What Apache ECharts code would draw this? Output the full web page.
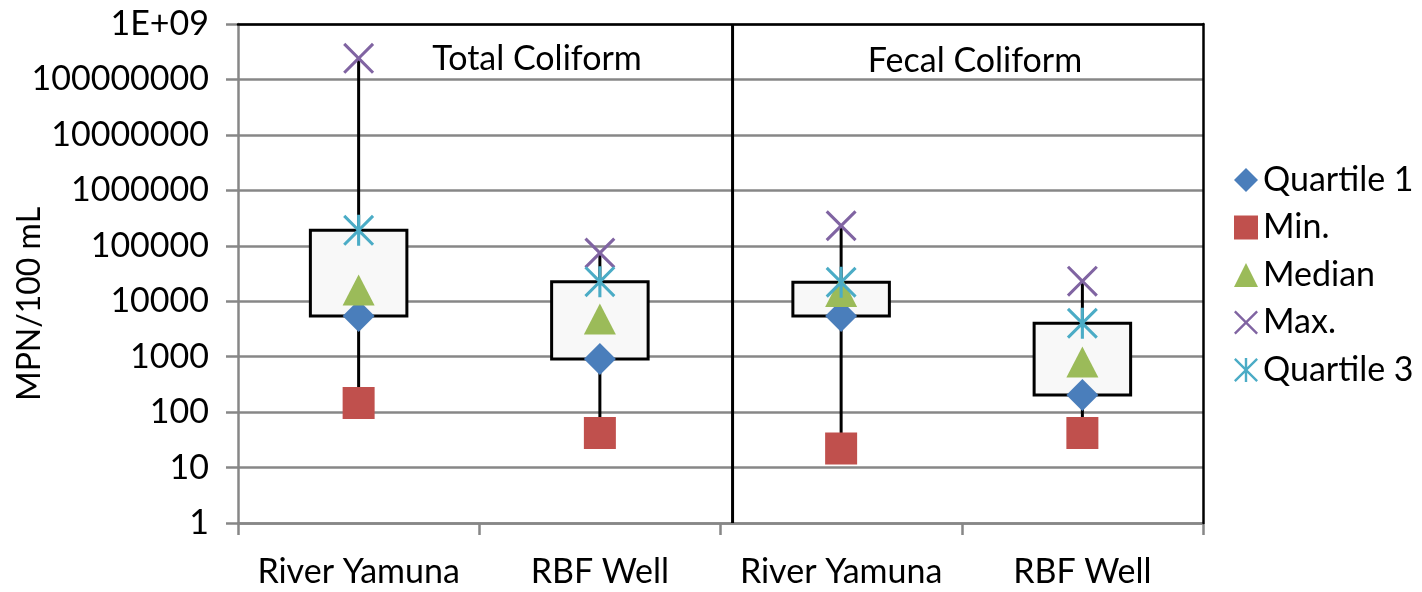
<!DOCTYPE html>
<html>
<head>
<meta charset="utf-8">
<script src="https://cdn.jsdelivr.net/npm/echarts@6/dist/echarts.min.js"></script>
<style>
  html, body { margin: 0; padding: 0; background: #fff; }
  #chart { width: 1422px; height: 592px; }
</style>
</head>
<body>
<div id="chart"></div>
<script>
// ---- data ----
const categories = ['River Yamuna', 'RBF Well', 'River Yamuna', 'RBF Well'];
const groups = ['Total Coliform', 'Fecal Coliform'];
const quartile1 = [5400, 910, 5400, 204];
const minVals = [146, 42, 22, 42];
const median = [16000, 4800, 15000, 800];
const maxVals = [240000000, 74000, 230000, 23000];
const quartile3 = [190000, 22500, 22000, 4000];
const yTickLabels = ['1', '10', '100', '1000', '10000', '100000', '1000000', '10000000', '100000000', '1E+09'];
const yTitle = 'MPN/100 mL';
const groupDivider = 2.05; // position of the group separator along the 0..4 category span

const FONT = 'Lato';
const FS = 34;
const GRID_GRAY = '#878787';
const X_SYMBOL = 'path://M7,0L50,43L93,0L100,7L57,50L100,93L93,100L50,57L7,100L0,93L43,50L0,7Z';
const STAR_SYMBOL = 'path://M7,0L50,43L93,0L100,7L57,50L100,93L93,100L50,57L7,100L0,93L43,50L0,7Z M45,0L55,0L55,100L45,100Z';

const chart = echarts.init(document.getElementById('chart'), null, { renderer: 'canvas' });

const pts = arr => arr.map((v, i) => [i, v]);

const option = {
  animation: false,
  backgroundColor: '#ffffff',
  textStyle: { fontFamily: FONT },
  grid: { left: 238, right: 219, top: 24, bottom: 69, containLabel: false },
  legend: {
    orient: 'vertical',
    left: 1229,
    top: 158,
    itemWidth: 24,
    itemHeight: 24,
    itemGap: 13.5,
    data: ['Quartile 1', 'Min.', 'Median', 'Max.', 'Quartile 3'],
    textStyle: { fontFamily: FONT, fontSize: FS, color: '#000' }
  },
  xAxis: [
    {
      type: 'category',
      data: categories,
      position: 'bottom',
      boundaryGap: true,
      axisLine: { show: true, lineStyle: { color: GRID_GRAY, width: 2.5 } },
      axisTick: { show: true, length: 12, interval: 0, lineStyle: { color: GRID_GRAY, width: 2.5 } },
      axisLabel: { fontFamily: FONT, fontSize: FS, color: '#000', margin: 32, interval: 0 },
      splitLine: { show: false }
    },
    {
      type: 'value',
      min: 0,
      max: 4,
      position: 'top',
      z: 5,
      axisLine: { show: true, onZero: false, lineStyle: { color: '#000', width: 2.5 } },
      axisTick: { show: false },
      axisLabel: { show: false },
      splitLine: { show: false }
    }
  ],
  yAxis: [
    {
      type: 'log',
      logBase: 10,
      min: 1,
      max: 1e9,
      interval: 1,
      axisLine: { show: true, lineStyle: { color: GRID_GRAY, width: 2.5 } },
      axisTick: { show: true, length: 12, lineStyle: { color: GRID_GRAY, width: 2.5 } },
      axisLabel: {
        fontFamily: FONT, fontSize: FS, color: '#000', margin: 29,
        formatter: v => yTickLabels[Math.round(Math.log10(v))]
      },
      splitLine: { show: true, lineStyle: { color: GRID_GRAY, width: 2.5 } }
    },
    {
      type: 'value',
      min: 0,
      max: 1,
      position: 'right',
      z: 5,
      axisLine: { show: true, onZero: false, lineStyle: { color: '#000', width: 2.5 } },
      axisTick: { show: false },
      axisLabel: { show: false },
      splitLine: { show: false }
    }
  ],
  graphic: [
    { type: 'text', x: 537, y: 59, z: 10, style: { text: groups[0], fontFamily: FONT, fontSize: FS, fill: '#000', align: 'center', verticalAlign: 'middle' } },
    { type: 'text', x: 975, y: 61, z: 10, style: { text: groups[1], fontFamily: FONT, fontSize: FS, fill: '#000', align: 'center', verticalAlign: 'middle' } },
    { type: 'text', x: 30, y: 304, rotation: Math.PI / 2, z: 10, style: { text: yTitle, fontFamily: FONT, fontSize: 32, fill: '#000', align: 'center', verticalAlign: 'middle' } }
  ],
  series: [
    {
      type: 'line',
      name: 'divider',
      xAxisIndex: 1,
      yAxisIndex: 0,
      data: [[groupDivider, 1], [groupDivider, 1e9]],
      symbol: 'none',
      silent: true,
      lineStyle: { color: '#000', width: 3 },
      z: 4
    },
    {
      type: 'custom',
      name: 'box',
      xAxisIndex: 0,
      yAxisIndex: 0,
      z: 2,
      silent: true,
      encode: { x: 0, y: [1, 2, 3, 4] },
      data: categories.map((c, i) => [i, minVals[i], quartile1[i], quartile3[i], maxVals[i]]),
      renderItem: function (params, api) {
        const x = api.value(0);
        const pMin = api.coord([x, api.value(1)]);
        const pQ1 = api.coord([x, api.value(2)]);
        const pQ3 = api.coord([x, api.value(3)]);
        const pMax = api.coord([x, api.value(4)]);
        const w = api.size([1, 0])[0] * 0.4;
        return {
          type: 'group',
          children: [
            { type: 'line', shape: { x1: pMin[0], y1: pMin[1], x2: pMax[0], y2: pMax[1] }, style: { stroke: '#000', lineWidth: 3 } },
            { type: 'rect', shape: { x: pQ1[0] - w / 2, y: pQ3[1], width: w, height: pQ1[1] - pQ3[1] }, style: { fill: '#f8f8f8', stroke: '#000', lineWidth: 3 } }
          ]
        };
      }
    },
    {
      type: 'scatter', name: 'Quartile 1', data: pts(quartile1), symbol: 'diamond', symbolSize: [32, 32], z: 6,
      itemStyle: { color: '#4a7ebb', opacity: 1 }
    },
    {
      type: 'scatter', name: 'Min.', data: pts(minVals), symbol: 'rect', symbolSize: [32, 32], z: 6,
      itemStyle: { color: '#c0504d', opacity: 1 }
    },
    {
      type: 'scatter', name: 'Median', data: pts(median), symbol: 'triangle', symbolSize: [32, 31], z: 6,
      itemStyle: { color: '#9bbb59', opacity: 1 }
    },
    {
      type: 'scatter', name: 'Max.', data: pts(maxVals), symbol: X_SYMBOL, symbolSize: [31, 31], z: 6,
      itemStyle: { color: '#8064a2', opacity: 1 }
    },
    {
      type: 'scatter', name: 'Quartile 3', data: pts(quartile3), symbol: STAR_SYMBOL, symbolSize: [31, 31], z: 6,
      itemStyle: { color: '#4bacc6', opacity: 1 }
    }
  ]
};

chart.setOption(option);
</script>
</body>
</html>
